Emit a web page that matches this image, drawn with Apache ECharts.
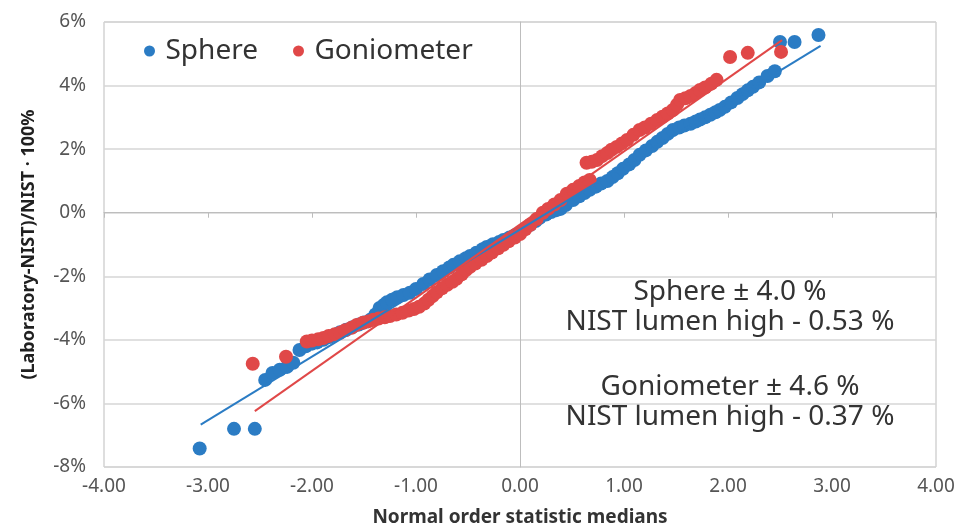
<!DOCTYPE html>
<html>
<head>
<meta charset="utf-8">
<script src="https://cdn.jsdelivr.net/npm/echarts@6/dist/echarts.min.js"></script>
<style>
html,body{margin:0;padding:0;background:#fff;}
#chart{width:958px;height:527px;}
</style>
</head>
<body>
<div id="chart"></div>
<script>
// Normal order statistic medians (x) and (Laboratory-NIST)/NIST·100% (y)
var sphereX = [-3.08,-2.75,-2.55,-2.45,-2.38,-2.31,-2.24,-2.18,-2.12,-2.06,-2.00,-1.95,-1.89,-1.83,-1.78,-1.73,-1.67,-1.61,-1.55,-1.50,-1.44,-1.39,-1.35,-1.31,-1.28,-1.23,-1.18,-1.12,-1.06,-1.00,-0.93,-0.87,-0.80,-0.74,-0.68,-0.64,-0.58,-0.52,-0.48,-0.42,-0.36,-0.32,-0.26,-0.20,-0.16,-0.10,-0.05,0.00,0.05,0.10,0.15,0.19,0.25,0.30,0.35,0.39,0.44,0.51,0.57,0.62,0.67,0.73,0.78,0.84,0.89,0.94,0.99,1.05,1.10,1.15,1.21,1.27,1.32,1.37,1.42,1.47,1.53,1.58,1.64,1.69,1.73,1.78,1.83,1.88,1.92,1.97,2.03,2.09,2.14,2.19,2.24,2.30,2.38,2.45,2.50,2.64,2.87];
var sphereY = [-7.42,-6.80,-6.80,-5.26,-5.04,-4.94,-4.85,-4.72,-4.32,-4.20,-4.12,-4.08,-4.00,-3.91,-3.84,-3.76,-3.68,-3.60,-3.52,-3.45,-3.37,-3.20,-3.00,-2.90,-2.82,-2.74,-2.66,-2.59,-2.52,-2.40,-2.24,-2.10,-1.96,-1.84,-1.72,-1.64,-1.53,-1.43,-1.36,-1.26,-1.15,-1.08,-0.99,-0.92,-0.86,-0.78,-0.71,-0.64,-0.50,-0.38,-0.26,-0.16,-0.06,0.02,0.08,0.12,0.24,0.40,0.52,0.62,0.72,0.82,0.92,1.00,1.12,1.24,1.38,1.52,1.66,1.82,1.96,2.10,2.23,2.35,2.48,2.60,2.68,2.74,2.80,2.87,2.93,3.00,3.08,3.16,3.23,3.33,3.47,3.61,3.73,3.85,3.96,4.10,4.30,4.45,5.37,5.37,5.59];

var gonioX = [-2.57,-2.25,-2.05,-2.00,-1.94,-1.89,-1.84,-1.78,-1.73,-1.68,-1.62,-1.57,-1.51,-1.46,-1.41,-1.36,-1.30,-1.25,-1.19,-1.13,-1.07,-1.02,-0.97,-0.92,-0.88,-0.84,-0.80,-0.75,-0.70,-0.65,-0.61,-0.56,-0.52,-0.48,-0.43,-0.37,-0.32,-0.27,-0.21,-0.16,-0.11,-0.05,0.00,0.05,0.10,0.16,0.22,0.27,0.33,0.39,0.45,0.51,0.57,0.62,0.67,0.64,0.69,0.74,0.79,0.84,0.88,0.93,0.98,1.03,1.09,1.15,1.20,1.26,1.32,1.37,1.42,1.47,1.51,1.54,1.59,1.64,1.69,1.73,1.78,1.84,1.89,2.02,2.19,2.51];
var gonioY = [-4.75,-4.53,-4.05,-4.02,-3.98,-3.94,-3.88,-3.82,-3.78,-3.70,-3.62,-3.53,-3.46,-3.42,-3.37,-3.33,-3.29,-3.25,-3.20,-3.15,-3.08,-3.03,-2.96,-2.86,-2.74,-2.62,-2.50,-2.38,-2.27,-2.17,-2.08,-1.94,-1.80,-1.70,-1.60,-1.48,-1.36,-1.25,-1.12,-1.01,-0.90,-0.78,-0.67,-0.52,-0.38,-0.20,0.00,0.12,0.26,0.40,0.60,0.72,0.84,0.95,1.03,1.57,1.60,1.66,1.78,1.88,1.98,2.07,2.18,2.29,2.45,2.60,2.68,2.80,2.92,3.02,3.12,3.23,3.40,3.55,3.60,3.67,3.77,3.86,3.94,4.06,4.18,4.90,5.03,5.06];

// Trend line end points
var sphereFitX = [-3.07, 2.89];
var sphereFitY = [-6.67, 5.25];
var gonioFitX = [-2.55, 2.52];
var gonioFitY = [-6.24, 5.43];

var xTicks = [-4, -3, -2, -1, 0, 1, 2, 3, 4];
var yTicks = [-8, -6, -4, -2, 0, 2, 4, 6];

var seriesNames = ['Sphere', 'Goniometer'];
var annotations = ['Sphere \u00b1 4.0 %', 'NIST lumen high - 0.53 %', 'Goniometer \u00b1 4.6 %', 'NIST lumen high - 0.37 %'];
var xTitle = 'Normal order statistic medians';
var yTitle = '(Laboratory-NIST)/NIST \u00b7 100%';

function zip(a, b) { return a.map(function (v, i) { return [v, b[i]]; }); }

var BLUE = '#2b7cc4', RED = '#e04848';
var FONT = 'Noto Sans';
var annoY = [292, 322, 387, 417];

var chart = echarts.init(document.getElementById('chart'), null, {renderer: 'canvas'});
var option = {
  animation: false,
  backgroundColor: '#fff',
  textStyle: {fontFamily: FONT},
  grid: {left: 104, right: 22, top: 22, bottom: 60, containLabel: false, outerBoundsMode: 'none', show: true, borderColor: '#bdbdbd', borderWidth: 1, backgroundColor: 'transparent'},
  legend: {
    data: seriesNames,
    left: 139, top: 32,
    icon: 'circle', itemWidth: 22, itemHeight: 11, itemGap: 35,
    textStyle: {fontFamily: FONT, fontSize: 28, color: '#333333'}
  },
  xAxis: [{
    type: 'value', min: xTicks[0], max: xTicks[xTicks.length - 1], interval: 1,
    position: 'bottom',
    axisLine: {show: false, onZero: false}, axisTick: {show: false},
    splitLine: {show: false},
    axisLabel: {fontFamily: FONT, fontSize: 19, color: '#555555', margin: 10, formatter: function (v) { return v.toFixed(2); }},
    name: xTitle, nameLocation: 'middle', nameGap: 41,
    nameTextStyle: {fontFamily: FONT, fontSize: 19, fontWeight: 'bold', color: '#333333'}
  }, {
    type: 'value', min: xTicks[0], max: xTicks[xTicks.length - 1], interval: 1,
    position: 'top',
    axisLine: {show: true, onZero: true, lineStyle: {color: '#bdbdbd', width: 1}},
    axisTick: {show: true, inside: true, length: 5, lineStyle: {color: '#bdbdbd'}},
    axisLabel: {show: false}, splitLine: {show: false}
  }],
  yAxis: [{
    type: 'value', min: yTicks[0], max: yTicks[yTicks.length - 1], interval: 2,
    position: 'left',
    axisLine: {show: false, onZero: false}, axisTick: {show: false},
    splitLine: {show: true, lineStyle: {color: '#d6d6d6', width: 1.5}},
    axisLabel: {fontFamily: FONT, fontSize: 19, color: '#555555', margin: 18, formatter: function (v) { return v + '%'; }},
    name: yTitle, nameLocation: 'middle', nameGap: 66, nameRotate: 90,
    nameTextStyle: {fontFamily: FONT, fontSize: 18, fontWeight: 'bold', color: '#202020'}
  }, {
    type: 'value', min: yTicks[0], max: yTicks[yTicks.length - 1], interval: 2,
    position: 'right',
    axisLine: {show: true, onZero: true, lineStyle: {color: '#bdbdbd', width: 1}},
    axisTick: {show: false},
    axisLabel: {show: false}, splitLine: {show: false}
  }],
  series: [{
    name: seriesNames[0], type: 'scatter', xAxisIndex: 0, yAxisIndex: 0,
    data: zip(sphereX, sphereY), symbolSize: 14,
    itemStyle: {color: BLUE, opacity: 1}, z: 3
  }, {
    name: seriesNames[1], type: 'scatter', xAxisIndex: 0, yAxisIndex: 0,
    data: zip(gonioX, gonioY), symbolSize: 14,
    itemStyle: {color: RED, opacity: 1}, z: 4
  }, {
    name: 'Sphere fit', type: 'line', xAxisIndex: 0, yAxisIndex: 0,
    data: zip(sphereFitX, sphereFitY), showSymbol: false, symbol: 'none',
    lineStyle: {color: BLUE, width: 2}, z: 5, silent: true
  }, {
    name: 'Goniometer fit', type: 'line', xAxisIndex: 0, yAxisIndex: 0,
    data: zip(gonioFitX, gonioFitY), showSymbol: false, symbol: 'none',
    lineStyle: {color: RED, width: 2}, z: 5, silent: true
  }],
  graphic: annotations.map(function (t, i) {
    return {type: 'text', x: 730, y: annoY[i], style: {text: t, textAlign: 'center', textVerticalAlign: 'middle', font: '28px "Noto Sans"', fill: '#333333'}};
  })
};
chart.setOption(option);
</script>
</body>
</html>
